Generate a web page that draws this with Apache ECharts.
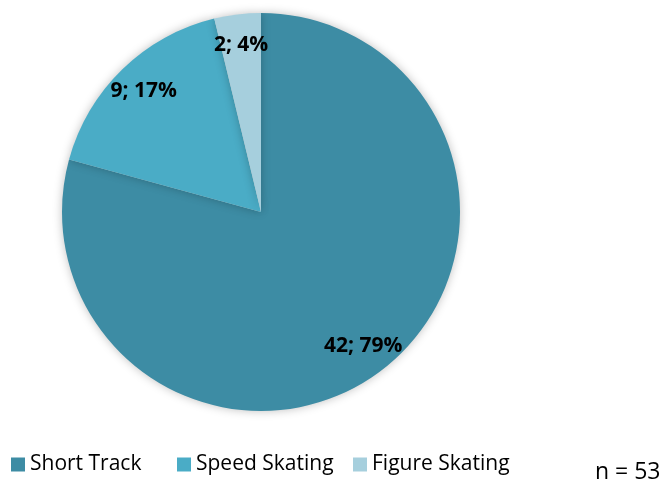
<!DOCTYPE html>
<html>
<head>
<meta charset="utf-8">
<script src="https://cdn.jsdelivr.net/npm/echarts@6/dist/echarts.min.js"></script>
<style>
  html, body { margin: 0; padding: 0; background: #fff; }
  #pieChart { width: 669px; height: 479px; }
</style>
</head>
<body>
<div id="pieChart"></div>
<script>
// 数据
var categories = ['Short Track', 'Speed Skating', 'Figure Skating'];
var counts = [42, 9, 2];
var colors = ['#3d8ca4', '#4aacc6', '#a6cfdd'];
var total = 53;
var legendLefts = [11, 177, 353];

var pieData = categories.map(function (name, i) {
  return { value: counts[i], name: name, itemStyle: { color: colors[i] } };
});

// 每个图例单独放，间距跟原图一致
var legends = categories.map(function (name, i) {
  return {
    data: [name],
    left: legendLefts[i],
    top: 454,
    padding: 0,
    itemWidth: 14,
    itemHeight: 14,
    icon: 'rect',
    textStyle: { fontSize: 21, color: '#000', fontFamily: 'Open Sans' }
  };
});

var pieChart = echarts.init(document.getElementById('pieChart'));
var pieOption = {
  animation: false,
  textStyle: { fontFamily: 'Open Sans' },
  legend: legends,
  graphic: [{
    type: 'text',
    left: 595,
    top: 461,
    style: { text: 'n = ' + total, font: '23px "Open Sans"', fill: '#000' }
  }],
  series: [
    {
      name: 'pie',
      type: 'pie',
      radius: 199,
      center: [261, 212],
      startAngle: 90,
      clockwise: true,
      label: { show: false },
      labelLine: { show: false },
      emphasis: { disabled: true },
      itemStyle: { shadowBlur: 10, shadowColor: 'rgba(0,0,0,0.25)' },
      data: pieData
    },
    {
      // 只放标签的透明环
      name: 'labels',
      type: 'pie',
      radius: [132, 199],
      center: [261, 212],
      startAngle: 90,
      clockwise: true,
      silent: true,
      itemStyle: { color: 'transparent' },
      label: {
        show: true,
        position: 'inside',
        formatter: function (p) { return p.value + '; ' + Math.round(p.percent) + '%'; },
        fontSize: 21,
        fontWeight: 'bold',
        fontFamily: 'Open Sans',
        color: '#000'
      },
      labelLine: { show: false },
      data: counts.map(function (v, i) { return { value: v, name: categories[i] }; })
    }
  ]
};
pieChart.setOption(pieOption);
</script>
</body>
</html>
